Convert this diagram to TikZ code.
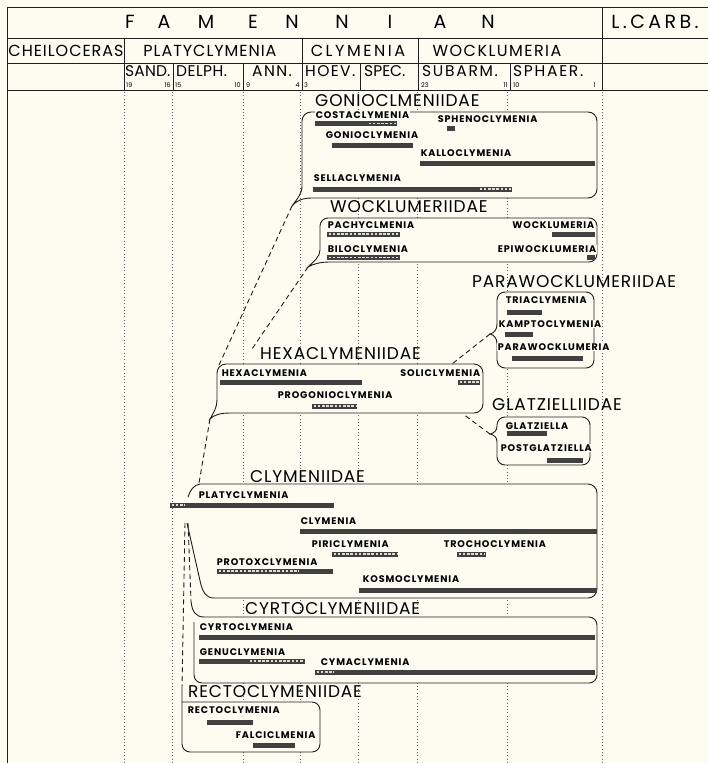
\documentclass[tikz,border=0pt]{standalone}
\usepackage{fontspec}
\setmainfont{Poppins}
\newfontfamily\famfont[LetterSpace=5]{Poppins}
\newfontfamily\genusfont[LetterSpace=9]{Poppins}
\definecolor{paper}{RGB}{253,252,241}
\definecolor{ink}{RGB}{30,30,30}

\tikzset{
  rule/.style={ink, line width=1pt},
  zoneline/.style={ink!70, line width=0.7pt, dash pattern=on 0.7pt off 2.6pt},
  famline/.style={ink, line width=0.9pt},
  branch/.style={ink, line width=0.9pt, dash pattern=on 5pt off 3.5pt},
  stagehead/.style={font=\fontsize{19}{19}\selectfont\addfontfeature{LetterSpace=#1}, inner sep=0pt},
  stagehead/.default=0,
  zonehead/.style={font=\fontsize{16}{16}\selectfont\addfontfeature{LetterSpace=#1}, inner sep=0pt},
  zonehead/.default=6,
  subzone/.style={font=\fontsize{15.5}{15.5}\selectfont\addfontfeature{LetterSpace=#1}, inner sep=0pt, anchor=west},
  subzone/.default=4,
  zonenum/.style={font=\fontsize{6.5}{6.5}\selectfont, inner sep=0pt},
  family/.style={font=\famfont\fontsize{17}{17}\selectfont, inner sep=0pt, anchor=west},
  genus/.style={font=\genusfont\bfseries\fontsize{9.6}{10}\selectfont, inner sep=0.6pt, fill=paper, anchor=west},
  genusr/.style={genus, anchor=east},
  barfill/.style={fill=ink!85},
  hatchcells/.style={paper!85!ink, line width=1.9pt, dash pattern=on 2.6pt off 1.6pt},
}
\newcommand{\rangebar}[3]{\fill[barfill] (#1,#3-2.5) rectangle (#2,#3+2.5);}
\newcommand{\hatchbar}[3]{\fill[barfill] (#1,#3-2.5) rectangle (#2,#3+2.5);
  \draw[hatchcells] (#1+1.6,#3) -- (#2-1,#3);}

\begin{document}
\begin{tikzpicture}[x=1pt,y=-1pt]
  \fill[paper] (0,0) rectangle (708,763);
  \useasboundingbox (0,0) rectangle (708,763);

  % stratigraphic table
  \draw[rule] (708,7) -- (7,7) -- (7,763);
  \foreach \y in {38,63,90} \draw[rule] (7,\y) -- (708,\y);
  \draw[rule] (602,7) -- (602,90);
  \foreach \x in {124,302,418} \draw[rule] (\x,38) -- (\x,90);
  \foreach \x in {173,243,360,510} \draw[rule] (\x,63) -- (\x,90);
  \foreach \x in {124,172,243,300,358,417,507,602} \draw[zoneline] (\x,92) -- (\x,763);

  \foreach \letter/\x [count=\i] in {F/130,A/164,M/206,E/253,N/292,N/342,I/390,A/440,N/488}
    \node[stagehead] (fam\i) at (\x,22) {\letter};
  \node[stagehead=18] (lcarb) at (655,22) {L.CARB.};

  \node[zonehead=6] (cheil) at (66,50.5) {CHEILOCERAS};
  \node[zonehead=6] (platyzone) at (210,50.5) {PLATYCLYMENIA};
  \node[zonehead=16] (clymzone) at (358,50.5) {CLYMENIA};
  \node[zonehead=9] (wockzone) at (497,50.5) {WOCKLUMERIA};

  \node[subzone=1] (sand) at (125,71.5) {SAND.};
  \node[subzone=3] (delph) at (176,71.5) {DELPH.};
  \node[subzone=9] (ann) at (252,71.5) {ANN.};
  \node[subzone=9] (hoev) at (305,71.5) {HOEV.};
  \node[subzone=0] (spec) at (364,71.5) {SPEC.};
  \node[subzone=11] (subarm) at (422,71.5) {SUBARM.};
  \node[subzone=11] (sphaer) at (513,71.5) {SPHAER.};

  \node[zonenum, anchor=west] (n19) at (126,85.5) {19};
  \node[zonenum, anchor=east] (n16) at (171,85.5) {16};
  \node[zonenum, anchor=west] (n15) at (175,85.5) {15};
  \node[zonenum, anchor=east] (n10) at (241,85.5) {10};
  \node[zonenum, anchor=west] (n9) at (246,85.5) {9};
  \node[zonenum, anchor=east] (n4) at (300,85.5) {4};
  \node[zonenum, anchor=west] (n3) at (304,85.5) {3};
  \node[zonenum, anchor=west] (n23) at (421,85.5) {23};
  \node[zonenum, anchor=east] (n11) at (508,85.5) {11};
  \node[zonenum, anchor=west] (n10b) at (513,85.5) {10};
  \node[zonenum, anchor=east] (n1) at (596,85.5) {1};

  % family boxes
  \fill[paper, rounded corners=9pt] (302,112) rectangle (597,198);
  \draw[famline, rounded corners=9pt] (302,186) -- (302,112) -- (597,112) -- (597,198) -- (312,198);
  \draw[famline] (312,198) .. controls (302,198) and (296,201) .. (292,206) .. controls (297,199) and (302,194) .. (302,186);
  \coordinate (gonioTail) at (292,206);

  \fill[paper, rounded corners=8pt] (320,218) rectangle (597,262);
  \draw[famline, rounded corners=8pt] (320,250) -- (320,218) -- (597,218) -- (597,262) -- (330,262);
  \draw[famline] (330,262) .. controls (320,262) and (313,264) .. (308,267) .. controls (314,261) and (320,257) .. (320,250);
  \coordinate (wockTail) at (308,267);

  \fill[paper, rounded corners=8pt] (497,292) rectangle (594,368);
  \draw[famline, rounded corners=8pt] (497,324) -- (497,292) -- (594,292) -- (594,368) -- (497,368) -- (497,344);
  \draw[famline] (497,324) .. controls (497,330) and (494,333) .. (490,334) .. controls (494,335) and (497,338) .. (497,344);
  \coordinate (parawockTip) at (490,334);

  \fill[paper, rounded corners=9pt] (217,364) rectangle (483,413);
  \draw[famline, rounded corners=9pt] (217,400) -- (217,364) -- (483,364) -- (483,413) -- (230,413);
  \draw[famline] (230,413) .. controls (220,413) and (214,415) .. (210,419) .. controls (214,412) and (217,407) .. (217,400);
  \coordinate (hexaTail) at (210,419);
  \coordinate (hexaCorner) at (219,365);
  \coordinate (hexaTitle) at (252,349);
  \coordinate (hexaSoli) at (452,364);
  \coordinate (hexaFoot) at (463,414);

  \fill[paper, rounded corners=8pt] (497,417) rectangle (590,465);
  \draw[famline, rounded corners=8pt] (497,426) -- (497,417) -- (590,417) -- (590,465) -- (497,465) -- (497,442);
  \draw[famline] (497,426) .. controls (497,431) and (494,433) .. (490,434) .. controls (494,435) and (497,437) .. (497,442);
  \coordinate (glatzTip) at (490,434);

  \fill[paper, rounded corners=9pt] (200,484) -- (597,484) -- (597,598) -- (213,598) -- (187,522) -- (187,497) -- cycle;
  \draw[famline, rounded corners=9pt] (200,484) -- (597,484) -- (597,598) -- (214,598);
  \draw[famline] (214,598) .. controls (206,598) and (203,592) .. (201,585) -- (187,523);
  \draw[famline] (200,484) .. controls (194,485) and (190,490) .. (188,497);
  \coordinate (clymTop) at (199,483);
  \coordinate (platyFootA) at (185,523);
  \coordinate (platyFootB) at (188,523);

  \fill[paper, rounded corners=8pt] (194,617) rectangle (597,683);
  \draw[famline, rounded corners=8pt] (204,617) -- (597,617) -- (597,683) -- (194,683) -- (194,622);
  \draw[famline] (191,601) .. controls (192,612) and (196,617) .. (204,617);
  \coordinate (cyrtoTail) at (191,601);

  \fill[paper, rounded corners=8pt] (182,702) rectangle (320,752);
  \draw[famline, rounded corners=8pt] (182,688) -- (182,752) -- (320,752) -- (320,702) -- (182,702);
  \coordinate (rectoTail) at (182,688);

  % lineages
  \draw[branch] (gonioTail) -- (hexaCorner);
  \draw[branch] (wockTail) -- (hexaTitle);
  \draw[branch] (parawockTip) -- (hexaSoli);
  \draw[branch] (glatzTip) -- (hexaFoot);
  \draw[branch] (hexaTail) -- (clymTop);
  \draw[branch] (platyFootB) -- (cyrtoTail);
  \draw[branch] (platyFootA) -- (rectoTail);

  % family names
  \node[family] (gonioFam) at (315,101) {GONIOCLMENIIDAE};
  \node[family] (wockFam) at (330,207) {WOCKLUMERIIDAE};
  \node[family] (parawockFam) at (472,282) {PARAWOCKLUMERIIDAE};
  \node[family] (hexaFam) at (260,353.5) {HEXACLYMENIIDAE};
  \node[family] (glatzFam) at (492,405) {GLATZIELLIIDAE};
  \node[family] (clymFam) at (250,476.5) {CLYMENIIDAE};
  \node[family] (cyrtoFam) at (245,609) {CYRTOCLYMENIIDAE};
  \node[family] (rectoFam) at (188,692) {RECTOCLYMENIIDAE};

  % genera and ranges
  \node[genus] (costa) at (315,115) {COSTACLYMENIA};
  \rangebar{315}{367}{123.5} \hatchbar{367}{397}{123.5}
  \node[genus] (spheno) at (437,119) {SPHENOCLYMENIA};
  \rangebar{447}{455}{128}
  \node[genus] (gonio) at (325,135.5) {GONIOCLYMENIA};
  \rangebar{332}{413}{145}
  \node[genus] (kallo) at (420,153.5) {KALLOCLYMENIA};
  \rangebar{420}{595}{163}
  \node[genus] (sella) at (313,178.5) {SELLACLYMENIA};
  \rangebar{313}{478}{189} \hatchbar{478}{512}{189}

  \node[genus] (pachy) at (327,225) {PACHYCLMENIA};
  \hatchbar{327}{400}{234}
  \node[genus] (bilo) at (327,249.5) {BILOCLYMENIA};
  \hatchbar{327}{400}{257.5}
  \node[genusr] (wock) at (595,225) {WOCKLUMERIA};
  \rangebar{552}{595}{234}
  \node[genusr] (epiwock) at (597,249.5) {EPIWOCKLUMERIA};
  \rangebar{587}{595}{257.5}

  \node[genus] (tria) at (505,300) {TRIACLYMENIA};
  \rangebar{507}{542}{312}
  \node[genus] (kampto) at (498,324) {KAMPTOCLYMENIA};
  \rangebar{505}{533}{334}
  \node[genus] (parawock) at (497,347) {PARAWOCKLUMERIA};
  \rangebar{512}{583}{358}

  \node[genus] (hexa) at (221,373) {HEXACLYMENIA};
  \rangebar{220}{362}{382}
  \node[genusr] (soli) at (481,373) {SOLICLYMENIA};
  \hatchbar{458}{480}{382}
  \node[genus] (progonio) at (277,395) {PROGONIOCLYMENIA};
  \hatchbar{312}{357}{406}

  \node[genus] (glatz) at (505,426) {GLATZIELLA};
  \rangebar{507}{547}{433}
  \node[genus] (postglatz) at (500,448) {POSTGLATZIELLA};
  \rangebar{547}{583}{460}

  \node[genus] (platy) at (198,495) {PLATYCLYMENIA};
  \hatchbar{170}{186}{505} \rangebar{186}{334}{505}
  \node[genus] (clym) at (300,521) {CLYMENIA};
  \rangebar{300}{597}{531}
  \node[genus] (piri) at (311,544) {PIRICLYMENIA};
  \hatchbar{332}{398}{554}
  \node[genus] (trocho) at (443,544) {TROCHOCLYMENIA};
  \hatchbar{457}{486}{554}
  \node[genus] (protox) at (216,562) {PROTOXCLYMENIA};
  \hatchbar{217}{300}{571} \rangebar{300}{333}{571}
  \node[genus] (kosmo) at (362,579) {KOSMOCLYMENIA};
  \rangebar{359}{597}{590}

  \node[genus] (cyrto) at (199,627) {CYRTOCLYMENIA};
  \rangebar{199}{595}{637}
  \node[genus] (genu) at (199,652) {GENUCLYMENIA};
  \rangebar{199}{248}{661} \hatchbar{248}{305}{661}
  \node[genus] (cyma) at (320,662) {CYMACLYMENIA};
  \hatchbar{315}{335}{672} \rangebar{335}{595}{672}

  \node[genus] (recto) at (187,710) {RECTOCLYMENIA};
  \rangebar{207}{253}{722}
  \node[genus] (falci) at (235,735) {FALCICLMENIA};
  \rangebar{253}{295}{745}
\end{tikzpicture}
\end{document}
